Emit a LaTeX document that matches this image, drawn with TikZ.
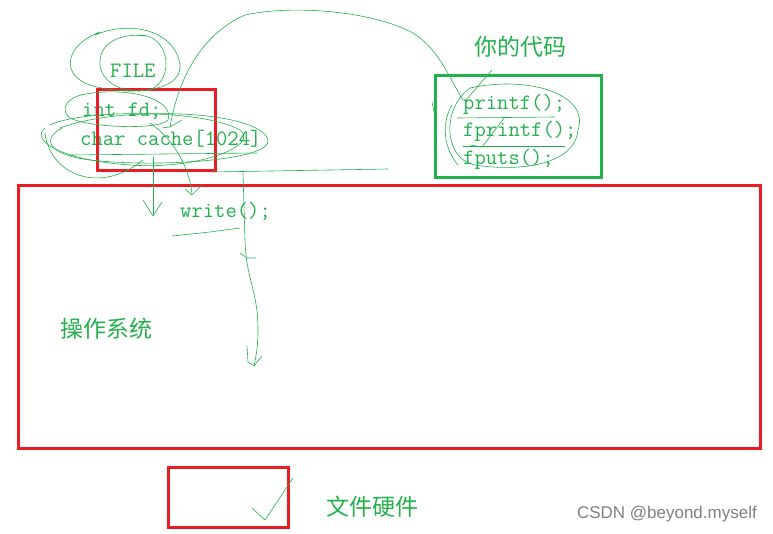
\documentclass[tikz,border=0pt]{standalone}
\usepackage{fontspec}
\setsansfont{Liberation Sans}
\newfontfamily\cjk{Noto Sans CJK SC}
\definecolor{codegreen}{RGB}{34,177,76}
\definecolor{boxred}{RGB}{237,28,36}

\begin{document}
\begin{tikzpicture}[x=1pt, y=-1pt,
  every node/.style={inner sep=0pt, text=codegreen},
  codetext/.style={font=\ttfamily\fontsize{22}{22}\selectfont, anchor=west},
  cjklabel/.style={font=\cjk\fontsize{23}{23}\selectfont},
  redbox/.style={draw=boxred, line width=3pt},
  greenbox/.style={draw=codegreen, line width=3pt},
  pen/.style={draw=codegreen, line width=0.6pt}]
\useasboundingbox (0,0) rectangle (773,533);

\node[codetext] (file) at (110,71) {FILE};
\node[codetext] (fd) at (82,111) {int fd;};
\node[codetext] (cache) at (80,139) {char cache[1024]};
\node[codetext] (write) at (180,211) {write();};
\node[codetext] (printf) at (463,104) {printf();};
\node[codetext] (fprintf) at (463,131) {fprintf();};
\node[codetext] (fputs) at (463,159) {fputs();};
\node[cjklabel] (yours) at (520,47) {你的代码};
\node[cjklabel] (os) at (106,329) {操作系统};
\node[cjklabel] (hw) at (372,507) {文件硬件};
\node[font=\sffamily\fontsize{17}{17}\selectfont, text=gray, anchor=east] (mark) at (757,514) {CSDN @beyond.myself};

\draw[redbox] (97,89) rectangle (215,170);
\draw[redbox] (18,185) rectangle (760,448);
\draw[redbox] (168,467) rectangle (288,527);
\draw[greenbox] (435,75) rectangle (601,177);

\draw[pen] (95,35) .. controls (130,20) and (175,30) .. (180,65) .. controls (182,95) and (120,95) .. (90,85) .. controls (60,75) and (65,45) .. (100,32);
\draw[pen] (140,35) .. controls (170,35) and (175,80) .. (150,90) .. controls (120,95) and (98,80) .. (100,60) .. controls (102,40) and (125,33) .. (145,36);
\draw[pen] (80,95) .. controls (130,85) and (175,100) .. (168,120) .. controls (160,130) and (90,128) .. (70,118) .. controls (60,110) and (65,98) .. (85,94);
\draw[pen] (60,128) .. controls (120,105) and (260,110) .. (268,140) .. controls (272,160) and (160,168) .. (90,160) .. controls (50,155) and (40,140) .. (62,128);
\draw[pen] (50,125) .. controls (80,110) and (200,108) .. (240,130) .. controls (260,145) and (200,170) .. (130,165) .. controls (60,160) and (30,140) .. (45,128);
\draw[pen] (45,133) .. controls (50,175) and (100,195) .. (143,160);
\draw[pen] (70,155) -- (257,153);
\draw[pen] (212,172) -- (388,169);

\draw[pen] (153,157) -- (153,215);
\draw[pen] (143,200) -- (153,216) -- (162,202);
\draw[pen] (150,123) .. controls (175,140) and (190,170) .. (192,194);
\draw[pen] (185,189) -- (192,195) -- (202,185);

\draw[pen] (172,236) -- (210,232) -- (240,228);
\draw[pen] (243,173) -- (245,240) .. controls (246,280) and (258,290) .. (258,330) .. controls (258,350) and (255,360) .. (254,366);
\draw[pen] (247,346) -- (248,362) -- (254,366) -- (262,356);
\draw[pen] (240,253) -- (247,258) -- (256,258);

\draw[pen] (170,127) .. controls (178,80) and (200,35) .. (245,15) .. controls (290,5) and (370,10) .. (413,33) .. controls (440,50) and (450,80) .. (463,100);
\draw[pen] (162,128) -- (170,127) -- (182,120);
\draw[pen] (492,70) -- (466,100);
\draw[pen] (432,102) -- (434,112);

\draw[pen] (470,88) .. controls (530,75) and (590,95) .. (578,130) .. controls (575,165) and (520,172) .. (475,165) .. controls (445,160) and (440,110) .. (470,88);
\draw[pen] (452,105) .. controls (440,125) and (445,150) .. (458,165);
\draw[pen] (457,118) -- (555,117);
\draw[pen] (463,146) -- (565,146);
\draw[pen] (505,117) -- (482,147) -- (470,145);

\draw[pen] (293,478) -- (265,520) -- (252,508);
\end{tikzpicture}
\end{document}
